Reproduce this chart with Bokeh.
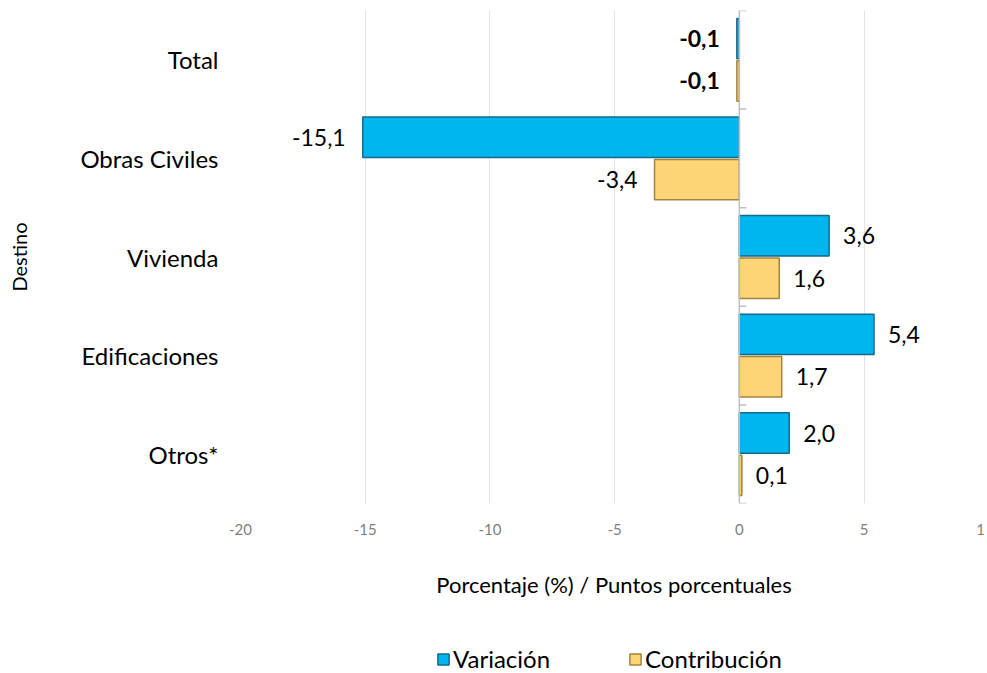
from bokeh.plotting import figure
from bokeh.layouts import column
from bokeh.models import (Range1d, FixedTicker, Span, Legend, LegendItem,
                          ColumnDataSource)
from bokeh.core.properties import value
from bokeh.embed import file_html
from bokeh.resources import INLINE

categories = ["Total", "Obras Civiles", "Vivienda", "Edificaciones", "Otros*"]
variacion = [-0.1, -15.1, 3.6, 5.4, 2.0]
contribucion = [-0.1, -3.4, 1.6, 1.7, 0.1]
x_ticks = [-20, -15, -10, -5, 0, 5, 9.67]
x_tick_labels = ["-20", "-15", "-10", "-5", "0", "5", "1"]
series_names = ["Variación", "Contribución"]

FONT = "Lato"
n = len(categories)
pos = [n - 1 - i for i in range(n)]
off = 0.215
bh = 0.41
COL_V = ("#00B6EE", "#17698A")
COL_C = ("#FDD577", "#A5843E")
LEFT = 240
NAN = float("nan")

def fmt(v):
    return f"{v:.1f}".replace(".", ",")

p = figure(width=987, height=600, output_backend="svg", toolbar_location=None,
           x_range=Range1d(-20, 9.95), y_range=Range1d(-0.5, n - 0.5),
           min_border_left=LEFT, min_border_right=0, min_border_top=10,
           min_border_bottom=90)
p.outline_line_color = None
p.background_fill_color = "white"

# grid
p.ygrid.grid_line_color = None
p.xgrid.ticker = FixedTicker(ticks=[t for t in x_ticks[:-1] if t != 0])
p.xgrid.grid_line_color = "#E3E3E3"
p.xgrid.grid_line_width = 1

# zero axis line with category tick marks
p.add_layout(Span(location=0, dimension="height", line_color="#BFBFBF", line_width=1.5))
bounds = [i - 0.5 for i in range(n + 1)]
p.segment(x0=[0] * len(bounds), y0=bounds, x1=[0.28] * len(bounds), y1=bounds,
          line_color="#BFBFBF", line_width=1.5)

src_v = ColumnDataSource(dict(y=[q + off for q in pos], right=variacion))
src_c = ColumnDataSource(dict(y=[q - off for q in pos], right=contribucion))

p.hbar(y="y", left=0, right="right", height=bh, source=src_v,
       fill_color=COL_V[0], line_color=COL_V[1], line_width=1.5)
p.hbar(y="y", left=0, right="right", height=bh, source=src_c,
       fill_color=COL_C[0], line_color=COL_C[1], line_width=1.5)

# data labels
for vals, ys in ((variacion, [q + off for q in pos]), (contribucion, [q - off for q in pos])):
    for i, (v, y) in enumerate(zip(vals, ys)):
        neg = v < 0
        p.text(x=[v], y=[y], text=[fmt(v)],
               text_align="right" if neg else "left", text_baseline="middle",
               x_offset=-17 if neg else 14,
               text_font=value(FONT), text_font_size="23px",
               text_font_style="bold" if categories[i] == "Total" else "normal",
               text_color="black")

# axes
p.xaxis.ticker = FixedTicker(ticks=x_ticks)
p.xaxis.major_label_overrides = {t: l for t, l in zip(x_ticks, x_tick_labels)}
p.xaxis.axis_line_color = None
p.xaxis.major_tick_line_color = None
p.xaxis.minor_tick_line_color = None
p.xaxis.major_label_text_font = FONT
p.xaxis.major_label_text_font_size = "15px"
p.xaxis.major_label_text_color = "#7F7F7F"
p.xaxis.major_label_standoff = 14
p.xaxis.axis_label = "Porcentaje (%) / Puntos porcentuales"
p.xaxis.axis_label_text_font = FONT
p.xaxis.axis_label_text_font_size = "22px"
p.xaxis.axis_label_text_font_style = "normal"
p.xaxis.axis_label_text_color = "black"
p.xaxis.axis_label_standoff = 33

p.yaxis.ticker = FixedTicker(ticks=pos)
p.yaxis.major_label_overrides = {q: c for q, c in zip(pos, categories)}
p.yaxis.axis_line_color = None
p.yaxis.major_tick_line_color = None
p.yaxis.minor_tick_line_color = None
p.yaxis.major_label_text_font = FONT
p.yaxis.major_label_text_font_size = "24px"
p.yaxis.major_label_text_color = "black"
p.yaxis.major_label_standoff = 16
p.yaxis.axis_label = "Destino"
p.yaxis.axis_label_text_font = FONT
p.yaxis.axis_label_text_font_size = "20px"
p.yaxis.axis_label_text_font_style = "normal"
p.yaxis.axis_label_text_color = "black"
p.yaxis.axis_label_standoff = 46

# legend strip below the chart
lg = figure(width=987, height=73, output_backend="svg", toolbar_location=None,
            x_range=Range1d(0, 1), y_range=Range1d(0, 1),
            min_border_left=LEFT, min_border_right=0,
            min_border_top=0, min_border_bottom=0)
lg.axis.visible = False
lg.grid.visible = False
lg.outline_line_color = None
# stand-ins with no drawable coordinates, so that the legend shows its swatches
lv = lg.hbar(y=[NAN], left=[NAN], right=[NAN], height=bh,
             fill_color=COL_V[0], line_color=COL_V[1], line_width=1.5)
lc = lg.hbar(y=[NAN], left=[NAN], right=[NAN], height=bh,
             fill_color=COL_C[0], line_color=COL_C[1], line_width=1.5)
legend = Legend(items=[LegendItem(label=series_names[0], renderers=[lv]),
                       LegendItem(label=series_names[1], renderers=[lc])],
                orientation="horizontal", location=(196, 0),
                label_text_font=FONT, label_text_font_size="24px",
                label_text_color="black",
                glyph_width=14, glyph_height=14, label_standoff=3,
                spacing=78, padding=0, margin=0,
                border_line_color=None, background_fill_alpha=0)
lg.add_layout(legend, "center")

open("out.html", "w").write(file_html(column(p, lg, spacing=0), INLINE))
